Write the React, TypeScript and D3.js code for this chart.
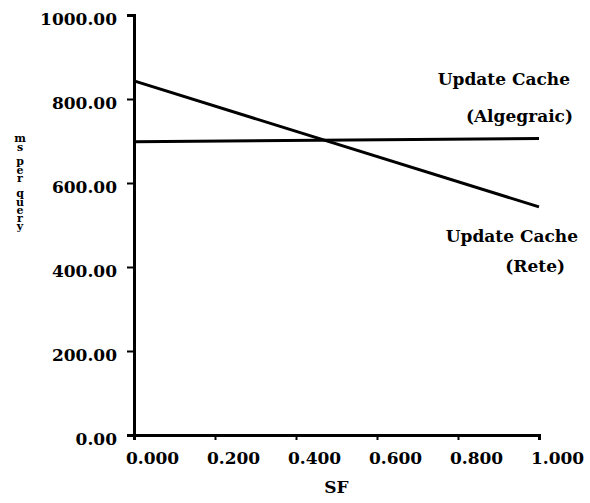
import React, { useEffect, useRef } from "react";
import * as d3 from "d3";

// data
const sfValues = [0, 1];
const reteMs = [843, 543];
const algebraicMs = [698, 706];
const xTicks = [0, 0.2, 0.4, 0.6, 0.8, 1.0];
const yTicks = [0, 200, 400, 600, 800, 1000];
const yTitle = ["m", "s", "p", "e", "r", "q", "u", "e", "r", "y"];
const yTitleBase = [142, 151, 165, 174, 182, 197, 206, 214, 222, 230];

const App = () => {
  const svgRef = useRef<SVGSVGElement | null>(null);

  useEffect(() => {
    const width = 590;
    const height = 503;
    const font = "'DejaVu Serif', serif";

    const xScale = d3.scaleLinear().domain([0, 1]).range([134, 539]);
    const yScale = d3.scaleLinear().domain([0, 1000]).range([435, 15]);

    const svg = d3.select(svgRef.current);
    svg.selectAll("*").remove();
    svg.attr("width", width).attr("height", height);

    svg.append("rect").attr("width", width).attr("height", height).attr("fill", "#fff");

    // yAxis
    const yAxis = d3
      .axisLeft(yScale)
      .tickValues(yTicks)
      .tickSize(7)
      .tickPadding(10)
      .tickFormat(d3.format(".2f") as any);
    const gy = svg.append("g").attr("transform", `translate(${xScale(0)},0)`).call(yAxis);
    gy.select(".domain").attr("stroke", "#000").attr("stroke-width", 3);
    gy.selectAll(".tick line").attr("stroke", "#000").attr("stroke-width", 2);
    gy.selectAll(".tick text")
      .attr("dy", "0.55em")
      .style("font-family", font)
      .style("font-weight", "bold")
      .style("font-size", "17px")
      .style("fill", "#000");

    // xAxis
    const xAxis = d3
      .axisBottom(xScale)
      .tickValues(xTicks)
      .tickSize(5)
      .tickPadding(10)
      .tickFormat(d3.format(".3f") as any);
    const gx = svg.append("g").attr("transform", `translate(0,${yScale(0)})`).call(xAxis);
    gx.select(".domain").attr("stroke", "#000").attr("stroke-width", 3);
    gx.selectAll(".tick line").attr("stroke", "#000").attr("stroke-width", 2);
    gx.selectAll(".tick text")
      .attr("x", 18)
      .attr("dy", "0.85em")
      .style("font-family", font)
      .style("font-weight", "bold")
      .style("font-size", "17px")
      .style("fill", "#000");

    // xAxis label
    svg
      .append("text")
      .attr("x", xScale(0.5))
      .attr("y", 493)
      .attr("text-anchor", "middle")
      .style("font-family", font)
      .style("font-weight", "bold")
      .style("font-size", "17px")
      .text("SF");

    // yAxis label, letters stacked tightly
    svg
      .selectAll(".ytitle")
      .data(yTitle)
      .enter()
      .append("text")
      .attr("class", "ytitle")
      .attr("x", 20)
      .attr("y", (_, i) => yTitleBase[i])
      .attr("text-anchor", "middle")
      .style("font-family", font)
      .style("font-weight", "bold")
      .style("font-size", "11px")
      .text((d) => d);

    // lines
    const line = d3
      .line<number>()
      .x((_, i) => xScale(sfValues[i]))
      .y((d) => yScale(d));

    [reteMs, algebraicMs].forEach((s) => {
      svg
        .append("path")
        .datum(s)
        .attr("d", line)
        .attr("fill", "none")
        .attr("stroke", "#000")
        .attr("stroke-width", 3);
    });

    // annotations
    const labels = [
      { text: "Update Cache", x: 570, y: 85 },
      { text: "(Algegraic)", x: 573, y: 122 },
      { text: "Update Cache", x: 578, y: 242 },
      { text: "(Rete)", x: 565, y: 272 },
    ];
    svg
      .selectAll(".note")
      .data(labels)
      .enter()
      .append("text")
      .attr("class", "note")
      .attr("x", (d) => d.x)
      .attr("y", (d) => d.y)
      .attr("text-anchor", "end")
      .style("font-family", font)
      .style("font-weight", "bold")
      .style("font-size", "17px")
      .text((d) => d.text);
  }, []);

  return (
    <div style={{ position: "absolute", left: 0, top: 0 }}>
      <svg ref={svgRef}></svg>
    </div>
  );
};

export default App;
